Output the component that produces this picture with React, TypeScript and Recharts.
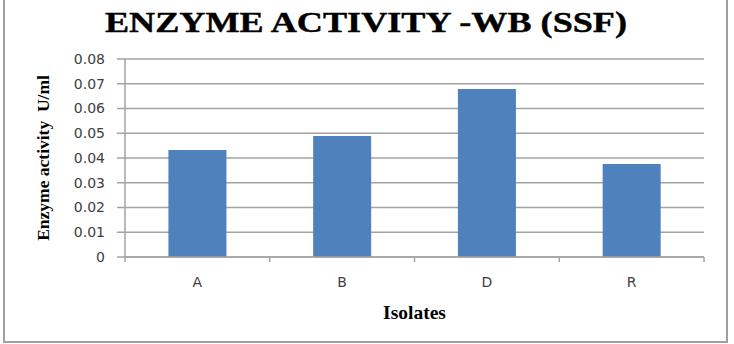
import { BarChart, Bar, CartesianGrid, XAxis, YAxis } from 'recharts'

const isolates = ['A', 'B', 'D', 'R']
const activity = [0.0432, 0.0489, 0.0679, 0.0376]
const yTicks = [0, 0.01, 0.02, 0.03, 0.04, 0.05, 0.06, 0.07, 0.08]

const data = isolates.map((name, i) => ({ name, value: activity[i] }))

const serif = '"Liberation Serif", "Times New Roman", serif'
const sans = '"DejaVu Sans", Verdana, sans-serif'
const grid = '#a3a3a3'

const CHART_W = 734
const MARGIN = { top: 59, right: 30, bottom: 57, left: 5 }
const Y_W = 120
const TICK_SIZE = 6
const TICK_MARGIN = 14
const band = (CHART_W - MARGIN.left - MARGIN.right - Y_W) / isolates.length

// category label plus Excel-style tick marks on the category boundaries
function CategoryTick(props: any) {
  const { x, y, payload, index } = props
  const axisY = y - TICK_SIZE - TICK_MARGIN
  const left = x - band / 2
  const right = x + band / 2
  return (
    <g>
      <line x1={left} x2={left} y1={axisY} y2={axisY + 5} stroke={grid} strokeWidth={1.5}/>
      {index === isolates.length - 1 && (
        <line x1={right} x2={right} y1={axisY} y2={axisY + 5} stroke={grid} strokeWidth={1.5}/>
      )}
      <text x={x} y={y} dy="0.71em" textAnchor="middle" fill="#404040" fontSize={14} fontFamily={sans}>
        {payload.value}
      </text>
    </g>
  )
}

export default function App() {
  return (
    <div style={{ position: 'fixed', left: 0, top: 0, width: 734, height: 344, background: '#fff' }}>
      {/* frame */}
      <div style={{ position: 'absolute', left: 3, top: -2, width: 721, height: 343, borderLeft: '2px solid #a0a0a0', borderRight: '2px solid #a0a0a0', borderBottom: '2px solid #a0a0a0' }}/>
      <svg width={734} height={50} style={{ position: 'absolute', left: 0, top: 0 }}>
        <text x={366} y={32} textAnchor="middle" fontFamily={serif} fontWeight="bold" fontSize={29}
          textLength={522} lengthAdjust="spacingAndGlyphs" fill="#000" stroke="#000" strokeWidth={0.4}>
          ENZYME ACTIVITY -WB (SSF)
        </text>
      </svg>
      <div style={{ position: 'absolute', left: 0, top: 0 }}>
        <BarChart width={CHART_W} height={344} data={data} margin={MARGIN} barCategoryGap="30%">
          <CartesianGrid vertical={false} stroke={grid} strokeWidth={1.5}/>
          <XAxis dataKey="name" height={30} axisLine={{ stroke: grid, strokeWidth: 1.5 }} tickLine={false}
            tickSize={TICK_SIZE} tickMargin={TICK_MARGIN} tick={<CategoryTick/>} interval={0}
            label={{ value: 'Isolates', position: 'insideBottom', offset: -32, fill: '#000', fontSize: 19.5, fontWeight: 'bold', fontFamily: serif }}/>
          <YAxis domain={[0, 0.08]} ticks={yTicks} width={Y_W} interval={0}
            axisLine={{ stroke: grid, strokeWidth: 1.5 }} tickLine={{ stroke: grid, strokeWidth: 1.5 }}
            tickSize={8} tickMargin={12} tick={{ fill: '#404040', fontSize: 14, fontFamily: sans }}
            label={{ value: 'Enzyme activity\u00a0\u00a0U/ml', angle: -90, position: 'insideLeft', offset: 38, fill: '#000', fontSize: 17.5, fontWeight: 'bold', fontFamily: serif, style: { textAnchor: 'middle' } }}/>
          <Bar dataKey="value" fill="#4f81bd" isAnimationActive={false}/>
        </BarChart>
      </div>
    </div>
  )
}
